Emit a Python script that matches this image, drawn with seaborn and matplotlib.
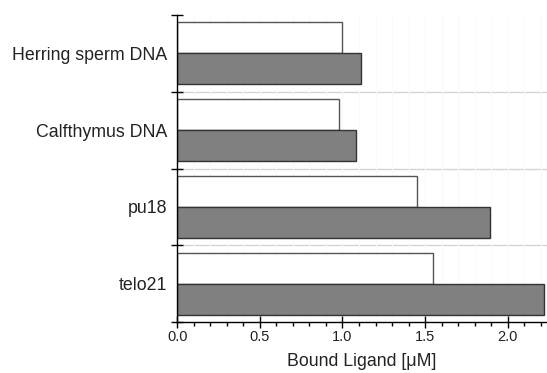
import matplotlib
matplotlib.use("Agg")
import matplotlib.pyplot as plt
from matplotlib.ticker import FixedLocator, MultipleLocator, NullFormatter, FixedFormatter
import seaborn as sns
import pandas as pd

categories = ["Herring sperm DNA", "Calfthymus DNA", "pu18", "telo21"]
series_names = ["A", "B"]
values_a = [1.00, 0.98, 1.45, 1.55]
values_b = [1.11, 1.08, 1.89, 2.22]

df = pd.DataFrame({
    "cat": categories * 2,
    "series": [series_names[0]] * 4 + [series_names[1]] * 4,
    "val": values_a + values_b,
})

sns.set_style("white")
plt.rcParams["font.family"] = ["Liberation Sans", "DejaVu Sans"]

fig = plt.figure(figsize=(5.47, 3.73), dpi=100)
ax = fig.add_axes([177.3 / 547, 1 - 322 / 373, 1 - 177.3 / 547, (322 - 15) / 373])

sns.barplot(data=df, x="val", y="cat", hue="series", order=categories,
            hue_order=series_names, palette=["white", "#808080"],
            orient="h", width=0.81, ax=ax, legend=False,
            edgecolor="#333333", linewidth=1.0, saturation=1)
for patch in ax.patches[:4]:
    patch.set_edgecolor("#555555")

ax.set_xlim(0, 2.238)
ax.set_ylim(3.5, -0.5)

# y ticks: boundaries as major ticks, labels at group centres
ax.yaxis.set_major_locator(FixedLocator([-0.5, 0.5, 1.5, 2.5, 3.5]))
ax.yaxis.set_major_formatter(NullFormatter())
ax.yaxis.set_minor_locator(FixedLocator([0, 1, 2, 3]))
ax.yaxis.set_minor_formatter(FixedFormatter(categories))
ax.tick_params(axis="y", which="major", direction="inout", length=8, width=1, color="black", left=True)
ax.tick_params(axis="y", which="minor", length=0, labelsize=12.8, pad=7, labelcolor="#222222")

ax.xaxis.set_major_locator(MultipleLocator(0.5))
ax.xaxis.set_minor_locator(MultipleLocator(0.1))
ax.xaxis.set_major_formatter(plt.FuncFormatter(lambda v, p: f"{v:.1f}"))
ax.tick_params(axis="x", which="major", direction="inout", length=8, width=1, color="black",
               bottom=True, labelsize=10.5, labelcolor="#222222", pad=2)
ax.tick_params(axis="x", which="minor", direction="out", length=3, width=1, color="black", bottom=True)

ax.grid(False)
for yb in [0.5, 1.5, 2.5]:
    ax.axhline(yb, color="#d4d4d4", linewidth=1.0, zorder=0)
for xv in [0.1 * i for i in range(1, 23)]:
    ax.axvline(xv, color="#fafafa", linewidth=0.8, zorder=0)

for s in ["top", "right"]:
    ax.spines[s].set_visible(False)
for s in ["left", "bottom"]:
    ax.spines[s].set_color("black")
    ax.spines[s].set_linewidth(1.0)

ax.set_ylabel("")
ax.set_xlabel("Bound Ligand [μM]", fontsize=12.8, color="#222222", labelpad=6)

fig.savefig("out.png", dpi=100)
